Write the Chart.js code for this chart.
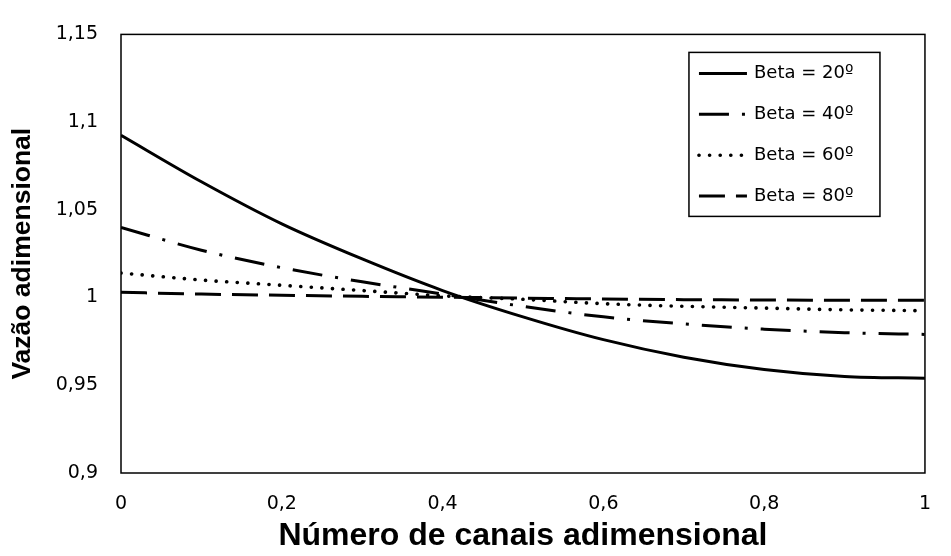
<!DOCTYPE html>
<html>
<head>
<meta charset="utf-8">
<script src="https://cdn.jsdelivr.net/npm/chart.js@4.4.1/dist/chart.umd.min.js"></script>
<style>
  html, body { margin: 0; padding: 0; background: #fff; }
  #wrap { width: 951px; height: 556px; }
</style>
</head>
<body>
<div id="wrap"><canvas id="lineChart"></canvas></div>
<script>
// values
var xValues = [0, 0.1, 0.2, 0.3, 0.4, 0.5, 0.6, 0.7, 0.8, 0.9, 1];
var beta20 = [1.0925, 1.066, 1.042, 1.022, 1.004, 0.989, 0.976, 0.966, 0.959, 0.955, 0.954];
var beta40 = [1.040, 1.027, 1.017, 1.009, 1.002, 0.995, 0.989, 0.985, 0.982, 0.980, 0.979];
var beta60 = [1.014, 1.010, 1.007, 1.004, 1.001, 0.999, 0.9965, 0.995, 0.994, 0.993, 0.9925];
var beta80 = [1.003, 1.002, 1.0013, 1.0007, 1.0002, 0.9997, 0.9992, 0.9988, 0.9986, 0.9985, 0.9984];
var seriesNames = ["Beta = 20º", "Beta = 40º", "Beta = 60º", "Beta = 80º"];
var xTicks = [0, 0.2, 0.4, 0.6, 0.8, 1];
var yTicks = [0.9, 0.95, 1, 1.05, 1.1, 1.15];

function toPoints(ys) {
    return xValues.map(function (x, i) { return { x: x, y: ys[i] }; });
}
function commaLabel(v) {
    return String(parseFloat(Number(v).toFixed(2))).replace('.', ',');
}

var dashes = [[], [30, 13, 3, 13], [0.1, 10.5], [26, 11]];
var caps = ['butt', 'butt', 'round', 'butt'];
var widths = [3, 3, 3.6, 3];

// frame around the plot area + legend box inside it
var framePlugin = {
    id: 'frame',
    afterDraw: function (chart) {
        var ctx = chart.ctx, a = chart.chartArea;
        ctx.save();
        ctx.strokeStyle = '#000';
        ctx.lineWidth = 1.5;
        ctx.setLineDash([]);
        ctx.strokeRect(a.left, a.top, a.right - a.left, a.bottom - a.top);

        var bx = a.right - 236, by = a.top + 18, bw = 191, bh = 164;
        ctx.fillStyle = '#fff';
        ctx.fillRect(bx, by, bw, bh);
        ctx.lineWidth = 1.5;
        ctx.strokeRect(bx, by, bw, bh);

        ctx.font = '18px "DejaVu Sans", sans-serif';
        ctx.textBaseline = 'middle';
        ctx.fillStyle = '#000';
        chart.data.datasets.forEach(function (ds, i) {
            var y = by + 21 + i * 40.9;
            ctx.lineWidth = ds.borderWidth;
            ctx.lineCap = ds.borderCapStyle;
            ctx.setLineDash(ds.borderDash);
            ctx.beginPath();
            ctx.moveTo(bx + 10, y);
            ctx.lineTo(bx + 58, y);
            ctx.stroke();
            ctx.setLineDash([]);
            ctx.fillText(ds.label, bx + 65, y);
        });
        ctx.restore();
    }
};

var ctxL = document.getElementById("lineChart").getContext('2d');
var myLineChart = new Chart(ctxL, {
    type: 'line',
    data: {
        datasets: [beta20, beta40, beta60, beta80].map(function (ys, i) {
            return {
                label: seriesNames[i],
                data: toPoints(ys),
                borderColor: '#000',
                borderWidth: widths[i],
                borderDash: dashes[i],
                borderCapStyle: caps[i],
                pointRadius: 0,
                cubicInterpolationMode: 'monotone',
                fill: false
            };
        })
    },
    plugins: [framePlugin],
    options: {
        responsive: true,
        maintainAspectRatio: false,
        animation: false,
        layout: { autoPadding: false, padding: { top: 25, right: 3, left: 0, bottom: 0 } },
        plugins: { legend: { display: false }, tooltip: { enabled: false } },
        scales: {
            x: {
                type: 'linear',
                min: 0,
                max: 1,
                grid: { display: false, drawTicks: false },
                border: { display: false },
                afterBuildTicks: function (scale) {
                    scale.ticks = xTicks.map(function (v) { return { value: v }; });
                },
                afterFit: function (scale) { scale.height = 83; },
                ticks: {
                    padding: 20,
                    color: '#000',
                    maxRotation: 0,
                    font: { family: '"DejaVu Sans", sans-serif', size: 19 },
                    callback: commaLabel
                },
                title: {
                    display: true,
                    text: 'Número de canais adimensional',
                    color: '#000',
                    font: { family: '"Liberation Sans", Arial, sans-serif', size: 32, weight: 'bold' },
                    padding: { top: 0, bottom: 1 }
                }
            },
            y: {
                min: 0.9,
                max: 1.15,
                grid: { display: false, drawTicks: false },
                border: { display: false },
                afterBuildTicks: function (scale) {
                    scale.ticks = yTicks.map(function (v) { return { value: v }; });
                },
                afterFit: function (scale) { scale.width = 121; },
                ticks: {
                    padding: 23,
                    color: '#000',
                    font: { family: '"DejaVu Sans", sans-serif', size: 19 },
                    callback: commaLabel
                },
                title: {
                    display: true,
                    text: 'Vazão adimensional',
                    color: '#000',
                    font: { family: '"Liberation Sans", Arial, sans-serif', size: 26.5, weight: 'bold' },
                    padding: { top: 7, bottom: 0 }
                }
            }
        }
    }
});
</script>
</body>
</html>
